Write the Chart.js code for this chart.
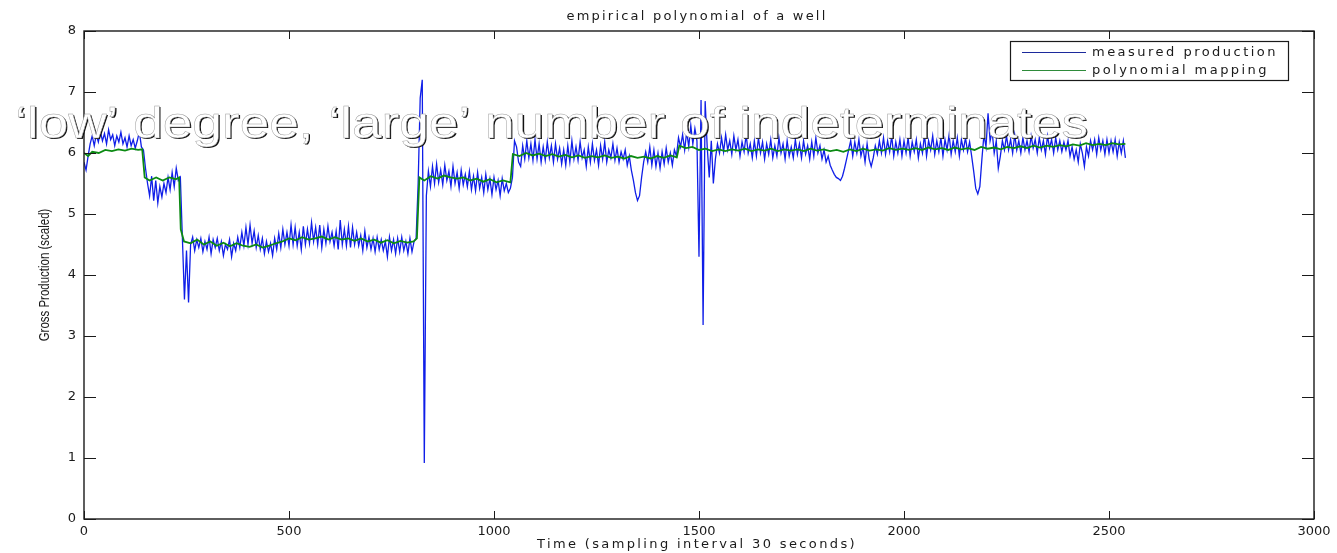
<!DOCTYPE html>
<html>
<head>
<meta charset="utf-8">
<script src="https://cdn.jsdelivr.net/npm/chart.js@4/dist/chart.umd.min.js"></script>
<style>
  body { margin: 0; background: #fff; }
</style>
</head>
<body>
<canvas id="myChart" width="1337" height="553"></canvas>
<script>
// measured production, one value every 5 samples (t = 0, 5, 10 ... 2540)
const sampleStep = 5;
const measured = [
  // t 0
  5.85, 5.72, 5.95, 6.15, 6.28, 6.12, 6.3, 6.18, 6.35, 6.2,
  6.32, 6.15, 6.38, 6.22, 6.3, 6.12, 6.28, 6.18, 6.34, 6.15,
  6.25, 6.1, 6.28, 6.12, 6.22, 6.08, 6.2, 6.35, 6.1, 6.05,
  // t 150
  5.75, 5.5,
  5.3, 5.62, 5.22, 5.55, 5.18, 5.45, 5.28, 5.5, 5.35, 5.6, 5.4, 5.68, 5.45, 5.75, 5.55,
  // t 235
  5.6, 4.6, 3.6, 4.4, 3.55, 4.5,
  // t 265
  4.62, 4.4, 4.58, 4.45, 4.6, 4.38, 4.55, 4.42, 4.62, 4.35,
  4.58, 4.45, 4.6, 4.4, 4.55, 4.32, 4.5, 4.42, 4.58, 4.3,
  4.52, 4.4, 4.62, 4.45, 4.7, 4.48, 4.78, 4.5, 4.82, 4.52,
  4.72, 4.45, 4.65, 4.42, 4.6, 4.35, 4.55, 4.38, 4.52, 4.32,
  4.6, 4.42, 4.68, 4.45, 4.75, 4.5, 4.7, 4.48, 4.82, 4.5,
  4.78, 4.48, 4.7, 4.42, 4.8, 4.5, 4.75, 4.52, 4.86, 4.55,
  4.78, 4.5, 4.82, 4.45, 4.75, 4.52, 4.8, 4.55, 4.7, 4.48,
  4.72, 4.42, 4.9, 4.5, 4.75, 4.48, 4.8, 4.45, 4.78, 4.5,
  4.7, 4.48, 4.65, 4.4, 4.72, 4.45, 4.62, 4.42, 4.6, 4.38,
  4.62, 4.42, 4.58, 4.4, 4.55, 4.3, 4.62, 4.4, 4.58, 4.35,
  4.6, 4.38, 4.62, 4.4, 4.55, 4.35, 4.6, 4.38, 4.55, 4.6,
  // t 815
  5.5, 6.9, 7.2, 0.92, 5.3, 5.7,
  // t 845
  5.45, 5.78, 5.5, 5.82, 5.52, 5.72, 5.48, 5.8, 5.55, 5.7,
  5.45, 5.78, 5.5, 5.68, 5.42, 5.72, 5.48, 5.65, 5.45, 5.7,
  5.4, 5.62, 5.38, 5.68, 5.42, 5.6, 5.35, 5.65, 5.4, 5.58,
  5.32, 5.6, 5.4, 5.55, 5.3, 5.58, 5.38, 5.5, 5.35, 5.42,
  // t 1045
  5.6, 6.2,
  // t 1055
  6.1, 5.85, 5.78, 6.12, 5.9, 6.2, 5.92, 6.15, 5.88, 6.22,
  5.9, 6.15, 5.85, 6.1, 5.88, 6.18, 5.92, 6.12, 5.85, 6.15,
  5.9, 6.08, 5.82, 6.05, 5.8, 6.12, 5.85, 6.2, 5.9, 6.1,
  5.88, 6.18, 5.92, 6.05, 5.78, 6.1, 5.85, 6.15, 5.88, 6.05,
  5.8, 6.12, 5.9, 6.18, 5.85, 6.05, 5.92, 6.15, 5.88, 6.08,
  5.85, 6.02, 5.9, 6.05, 5.8, 5.95, 5.72, 5.55, 5.35, 5.22,
  5.3, 5.6, 5.85, 6.02, 5.85, 6.1, 5.8, 6.05, 5.78, 6.0,
  5.75, 6.02, 5.82, 6.08, 5.85, 6.0, 5.8, 6.05, 5.95,
  // t 1450
  6.25, 6.1, 6.3, 6.05, 6.35, 6.1, 6.45, 6.15, 6.4, 6.2,
  4.3, 6.87, 3.18, 6.85, 6.1, 5.6, 6.2, 5.5, 5.9, 6.15,
  // t 1550
  6.0, 6.25, 6.02, 6.3, 6.05, 6.2, 5.98, 6.28, 6.05, 6.22,
  5.95, 6.18, 6.02, 6.3, 6.0, 6.15, 5.92, 6.2, 5.95, 6.25,
  6.0, 6.18, 5.9, 6.15, 5.98, 6.22, 5.92, 6.12, 5.95, 6.25,
  6.0, 6.15, 5.9, 6.2, 5.95, 6.1, 5.92, 6.22, 5.98, 6.15,
  5.92, 6.2, 5.98, 6.12, 5.9, 6.18, 5.95, 6.25, 6.0, 6.12,
  5.9, 6.05, 5.85, 5.95, 5.8, 5.72, 5.65, 5.6, 5.58, 5.55,
  5.62, 5.75, 5.9, 6.05, 6.2, 5.95, 6.18, 6.0, 6.22, 5.95,
  6.1, 5.85, 6.15, 5.9, 5.78, 5.92, 6.12, 5.98, 6.2, 6.0,
  6.25, 5.98, 6.2, 6.02, 6.28, 5.95, 6.18, 6.0, 6.22, 5.95,
  6.2, 6.0, 6.25, 5.95, 6.18, 6.02, 6.22, 5.92, 6.15, 6.0,
  6.3, 5.95, 6.2, 6.05, 6.28, 5.98, 6.2, 6.02, 6.25, 5.95,
  6.22, 6.05, 6.3, 5.98, 6.2, 6.02, 6.25, 5.95, 6.22, 6.05,
  6.25, 6.02, 6.18, 5.95, 5.7, 5.42, 5.33, 5.45, 5.9, 6.3,
  6.1, 6.65, 6.2, 6.35, 6.0, 6.2, 5.75, 5.95, 6.2, 6.05,
  6.28, 6.05, 6.22, 6.0, 6.3, 6.05, 6.2, 6.0, 6.25, 6.05,
  6.2, 6.02, 6.28, 6.08, 6.22, 6.0, 6.25, 6.05, 6.2, 5.98,
  6.28, 6.08, 6.22, 6.0, 6.25, 6.05, 6.2, 6.02, 6.18, 6.05,
  6.2, 5.95, 6.1, 5.9, 6.05, 5.85, 6.15, 6.0, 5.78, 6.1,
  5.95, 6.2, 6.05, 6.22, 5.98, 6.25, 6.05, 6.2, 5.98, 6.22,
  6.0, 6.2, 6.02, 6.22, 5.95, 6.18, 6.0, 6.2, 5.92
];

// polynomial mapping: [time, value]
const mapping = [
  [0,6.0],[10,5.95],[20,6.02],[36,6.0],[52,6.05],[68,6.03],[84,6.06],[100,6.04],[116,6.07],
  [132,6.05],[142,6.06],[148,5.6],[160,5.55],[176,5.6],[192,5.55],[208,5.6],[224,5.57],[232,5.6],
  [236,4.75],[244,4.55],
  [260,4.52],[276,4.58],[292,4.5],[308,4.55],[324,4.48],[340,4.53],[356,4.47],[372,4.52],[388,4.48],
  [404,4.46],[420,4.5],[436,4.45],[452,4.48],[468,4.52],[484,4.55],[500,4.6],[516,4.57],[532,4.62],
  [548,4.58],[564,4.6],[580,4.63],[596,4.58],[612,4.62],[628,4.58],[644,4.6],[660,4.56],[676,4.6],
  [692,4.55],[708,4.58],[724,4.53],[740,4.57],[756,4.52],[772,4.56],[788,4.53],[804,4.55],[812,4.6],
  [818,5.6],[830,5.55],[846,5.62],[862,5.58],[878,5.63],[894,5.6],[910,5.58],[926,5.6],[942,5.55],
  [958,5.58],[974,5.53],[990,5.57],[1006,5.52],[1022,5.55],[1040,5.52],
  [1046,5.98],[1062,5.95],[1078,6.0],[1094,5.96],[1110,5.99],[1126,5.95],[1142,5.98],[1158,5.94],
  [1174,5.97],[1190,5.93],[1206,5.96],[1222,5.92],[1238,5.95],[1254,5.93],[1270,5.96],[1286,5.92],
  [1302,5.94],[1318,5.91],[1334,5.95],[1350,5.92],[1366,5.94],[1382,5.91],[1398,5.95],[1414,5.92],
  [1430,5.96],[1446,5.93],
  [1452,6.12],[1468,6.08],[1484,6.1],[1500,6.05],[1516,6.07],[1532,6.03],[1548,6.06],[1564,6.03],
  [1580,6.06],[1596,6.04],[1612,6.07],[1628,6.03],[1644,6.06],[1660,6.04],[1676,6.07],[1692,6.03],
  [1708,6.06],[1724,6.04],[1740,6.06],[1756,6.03],[1772,6.07],[1788,6.04],[1804,6.06],[1820,6.03],
  [1836,6.05],[1852,6.02],[1868,6.06],[1884,6.03],[1900,6.07],[1916,6.04],[1932,6.06],[1948,6.04],
  [1964,6.08],[1980,6.05],[1996,6.07],[2012,6.05],[2028,6.08],[2044,6.05],[2060,6.09],[2076,6.06],
  [2092,6.08],[2108,6.05],[2124,6.09],[2140,6.06],[2156,6.08],[2172,6.05],[2188,6.1],[2204,6.07],
  [2220,6.09],[2236,6.06],[2252,6.1],[2268,6.08],[2284,6.11],[2300,6.08],[2316,6.12],[2332,6.09],
  [2348,6.12],[2364,6.1],[2380,6.13],[2396,6.11],[2412,6.14],[2428,6.12],[2444,6.16],[2460,6.13],
  [2476,6.15],[2492,6.13],[2508,6.16],[2524,6.14],[2540,6.15]
];

const xRange = [0, 3000];
const yRange = [0, 8];
const xStep = 500;
const yStep = 1;

const seriesNames = ['measured production', 'polynomial mapping'];
const chartTitle = 'empirical polynomial of a well';
const xTitle = 'Time (sampling interval 30 seconds)';
const yTitle = 'Gross Production (scaled)';
const overlayText = '\u2018low\u2019 degree, \u2018large\u2019 number of indeterminates';

const BLUE = '#0f1ee8';
const GREEN = '#0b8a12';
const INK = '#1a1a1a';

// draw text stretched to a given width with letter spacing
function fitText(ctx, text, x, y, width, font, align) {
  ctx.font = font;
  ctx.letterSpacing = '0px';
  const w = ctx.measureText(text).width;
  const ls = (width - w) / text.length;
  ctx.letterSpacing = ls + 'px';
  let sx = x;
  if (align === 'center') sx = x - width / 2;
  ctx.textAlign = 'left';
  ctx.fillText(text, sx, y);
  ctx.letterSpacing = '0px';
}

const matlabFrame = {
  id: 'matlabFrame',
  afterDraw(chart) {
    const ctx = chart.ctx;
    const a = chart.chartArea;
    const xs = chart.scales.x, ys = chart.scales.y;
    ctx.save();

    // box + inward ticks
    ctx.strokeStyle = INK;
    ctx.lineWidth = 1.4;
    ctx.strokeRect(a.left, a.top, a.right - a.left, a.bottom - a.top);
    ctx.lineWidth = 1;
    ctx.beginPath();
    xs.ticks.forEach(t => {
      const px = Math.round(xs.getPixelForValue(t.value)) + 0.5;
      ctx.moveTo(px, a.bottom); ctx.lineTo(px, a.bottom - 8);
      ctx.moveTo(px, a.top); ctx.lineTo(px, a.top + 8);
    });
    ys.ticks.forEach(t => {
      const py = Math.round(ys.getPixelForValue(t.value)) + 0.5;
      ctx.moveTo(a.left, py); ctx.lineTo(a.left + 12, py);
      ctx.moveTo(a.right, py); ctx.lineTo(a.right - 12, py);
    });
    ctx.stroke();

    // titles
    ctx.fillStyle = INK;
    ctx.textBaseline = 'middle';
    fitText(ctx, chartTitle, 697, 17, 261, '13px "DejaVu Sans"', 'center');
    fitText(ctx, xTitle, 697, 545, 320, '13px "DejaVu Sans"', 'center');

    ctx.save();
    ctx.translate(45, 275);
    ctx.rotate(-Math.PI / 2);
    ctx.scale(0.82, 1);
    ctx.textAlign = 'center';
    ctx.font = '14px "Liberation Sans"';
    ctx.fillText(yTitle, 0, 0);
    ctx.restore();

    // legend
    const lx = 1010, ly = 41, lw = 278, lh = 39;
    ctx.fillStyle = '#fff';
    ctx.fillRect(lx, ly, lw, lh);
    ctx.strokeStyle = INK;
    ctx.lineWidth = 1.2;
    ctx.strokeRect(lx + 0.5, ly + 0.5, lw, lh);
    const widths = [186, 177];
    seriesNames.forEach((name, i) => {
      const yy = ly + 11 + i * 18;
      ctx.strokeStyle = i === 0 ? '#1c2a9c' : '#2e8b3a';
      ctx.lineWidth = 1;
      ctx.beginPath();
      ctx.moveTo(lx + 12, yy + 0.5); ctx.lineTo(lx + 76, yy + 0.5);
      ctx.stroke();
      ctx.fillStyle = INK;
      fitText(ctx, name, lx + 82, yy + 1, widths[i], '13px "DejaVu Sans"', 'left');
    });

    // big white overlay text with a thin drop shadow
    ctx.font = '44px "Liberation Sans"';
    ctx.textBaseline = 'alphabetic';
    ctx.textAlign = 'left';
    const natural = ctx.measureText(overlayText).width;
    ctx.save();
    ctx.translate(15, 138);
    ctx.scale(1073 / natural, 1);
    ctx.fillStyle = '#111';
    ctx.fillText(overlayText, 1.1, 1.3);
    ctx.fillStyle = '#fff';
    ctx.fillText(overlayText, 0, 0);
    ctx.strokeStyle = '#9a9a9a';
    ctx.lineWidth = 0.4;
    ctx.strokeText(overlayText, 0, 0);
    ctx.restore();

    ctx.restore();
  }
};

const ctx = document.getElementById('myChart').getContext('2d');
const myChart = new Chart(ctx, {
  type: 'line',
  data: {
    datasets: [{
      label: seriesNames[0],
      data: measured.map((v, i) => ({ x: i * sampleStep, y: v })),
      borderColor: BLUE,
      borderWidth: 1.3,
      pointRadius: 0,
      fill: false,
      tension: 0,
      order: 2
    }, {
      label: seriesNames[1],
      data: mapping.map(p => ({ x: p[0], y: p[1] })),
      borderColor: GREEN,
      borderWidth: 1.8,
      pointRadius: 0,
      fill: false,
      tension: 0,
      order: 1
    }]
  },
  options: {
    responsive: false,
    animation: false,
    layout: { padding: { left: 0, right: 23, top: 31, bottom: 0 } },
    plugins: {
      legend: { display: false },
      tooltip: { enabled: false },
      title: { display: false }
    },
    scales: {
      x: {
        type: 'linear',
        min: xRange[0], max: xRange[1],
        grid: { display: false, drawTicks: false },
        border: { display: false },
        ticks: { stepSize: xStep, padding: 5, color: INK, maxRotation: 0,
                 callback: v => String(v),
                 font: { family: 'DejaVu Sans', size: 13 } },
        afterFit(s) { s.height = 34; }
      },
      y: {
        type: 'linear',
        min: yRange[0], max: yRange[1],
        grid: { display: false, drawTicks: false },
        border: { display: false },
        ticks: { stepSize: yStep, padding: 8, color: INK,
                 callback: v => String(v),
                 font: { family: 'DejaVu Sans', size: 13 } },
        afterFit(s) { s.width = 84; }
      }
    }
  },
  plugins: [matlabFrame]
});
</script>
</body>
</html>
